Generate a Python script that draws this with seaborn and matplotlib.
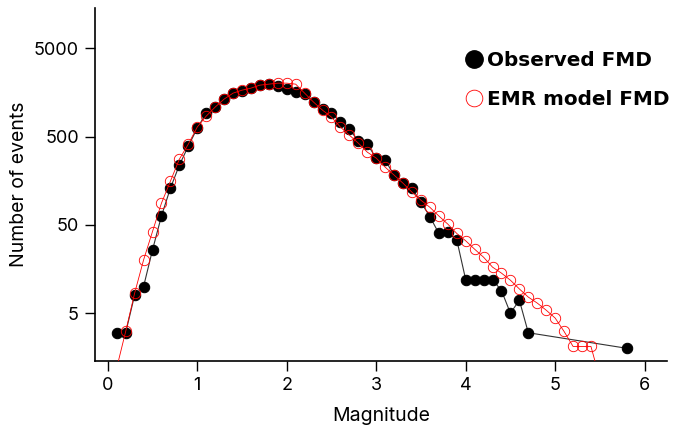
import numpy as np
import pandas as pd
import seaborn as sns
import matplotlib.pyplot as plt
from matplotlib.lines import Line2D

# observed frequency-magnitude distribution (non-cumulative counts)
obs_mag = [0.1, 0.2, 0.3, 0.4, 0.5, 0.6, 0.7, 0.8, 0.9, 1.0,
           1.1, 1.2, 1.3, 1.4, 1.5, 1.6, 1.7, 1.8, 1.9, 2.0,
           2.1, 2.2, 2.3, 2.4, 2.5, 2.6, 2.7, 2.8, 2.9, 3.0,
           3.1, 3.2, 3.3, 3.4, 3.5, 3.6, 3.7, 3.8, 3.9, 4.0,
           4.1, 4.2, 4.3, 4.4, 4.5, 4.6, 4.7, 5.8]
obs_count = [3, 3, 8, 10, 26, 63, 130, 237, 389, 622,
             920, 1077, 1327, 1550, 1632, 1766, 1910, 1960, 1862, 1722,
             1592, 1510, 1227, 1021, 920, 728, 607, 444, 410, 285,
             270, 183, 148, 130, 90, 62, 40, 41, 34, 12,
             12, 12, 12, 9, 5, 7, 3, 2]

# EMR model FMD
emr_mag = [0.1, 0.2, 0.3, 0.4, 0.5, 0.6, 0.7, 0.8, 0.9, 1.0,
           1.1, 1.2, 1.3, 1.4, 1.5, 1.6, 1.7, 1.8, 1.9, 2.0,
           2.1, 2.2, 2.3, 2.4, 2.5, 2.6, 2.7, 2.8, 2.9, 3.0,
           3.1, 3.2, 3.3, 3.4, 3.5, 3.6, 3.7, 3.8, 3.9, 4.0,
           4.1, 4.2, 4.3, 4.4, 4.5, 4.6, 4.7, 4.8, 4.9, 5.0,
           5.1, 5.2, 5.3, 5.4, 5.5]
emr_count = [1.2, 3.1, 8.4, 20, 42, 88, 156, 277, 410, 640,
             851, 1077, 1327, 1550, 1675, 1766, 1910, 1960, 2012, 2012,
             1960, 1550, 1227, 995, 830, 640, 519, 421, 333, 285,
             225, 183, 148, 117, 95, 79, 63, 51, 40, 33,
             26.5, 21.5, 16.6, 14.2, 11.8, 9.4, 7.6, 6.5, 5.4, 4.4,
             3.1, 2.1, 2.1, 2.1, 0.9]

obs = pd.DataFrame({'mag': obs_mag, 'count': obs_count})
emr = pd.DataFrame({'mag': emr_mag, 'count': emr_count})

sns.set_style('ticks')
plt.rcParams['font.family'] = ['Inter', 'DejaVu Sans']
plt.rcParams.update({'text.color': 'black', 'axes.labelcolor': 'black',
                     'xtick.color': 'black', 'ytick.color': 'black'})

fig, ax = plt.subplots(figsize=(6.82, 4.32), dpi=100)
fig.subplots_adjust(left=0.139, right=0.978, top=0.981, bottom=0.164)

sns.lineplot(data=obs, x='mag', y='count', ax=ax, color='#333333', lw=0.8,
             marker='o', markersize=7.5, markerfacecolor='black',
             markeredgecolor='black', zorder=2)
sns.lineplot(data=emr, x='mag', y='count', ax=ax, color='red', lw=0.6,
             marker='o', markersize=7.5, markerfacecolor='none',
             markeredgecolor='red', markeredgewidth=0.6, zorder=3)

ax.set_yscale('log')
ax.set_xlim(-0.145, 6.25)
ax.set_ylim(1.43, 14200)
ax.set_yticks([5, 50, 500, 5000])
ax.set_yticklabels(['5', '50', '500', '5000'])
ax.minorticks_off()
ax.set_xticks(range(0, 7))
ax.tick_params(labelsize=13, width=1, length=7, pad=4.5)
ax.set_xlabel('Magnitude', fontsize=14, labelpad=9)
ax.set_ylabel('Number of events', fontsize=14, labelpad=4)
for s in ['left', 'bottom']:
    ax.spines[s].set_color('black')
    ax.spines[s].set_linewidth(1.2)
sns.despine(ax=ax)

handles = [Line2D([], [], ls='', marker='o', markersize=12.5, markerfacecolor='black',
                  markeredgecolor='black'),
           Line2D([], [], ls='', marker='o', markersize=12, markerfacecolor='none',
                  markeredgecolor='red', markeredgewidth=0.6)]
ax.legend(handles, ['Observed FMD', 'EMR model FMD'], loc='upper left',
          bbox_to_anchor=(464 / 682, 1 - 51 / 432), bbox_transform=fig.transFigure,
          frameon=False, handletextpad=0.13, borderpad=0, borderaxespad=0,
          labelspacing=1.0, handlelength=1.0,
          prop={'family': 'DejaVu Sans', 'weight': 'bold', 'size': 14.4})

fig.savefig('out.png', dpi=100)
